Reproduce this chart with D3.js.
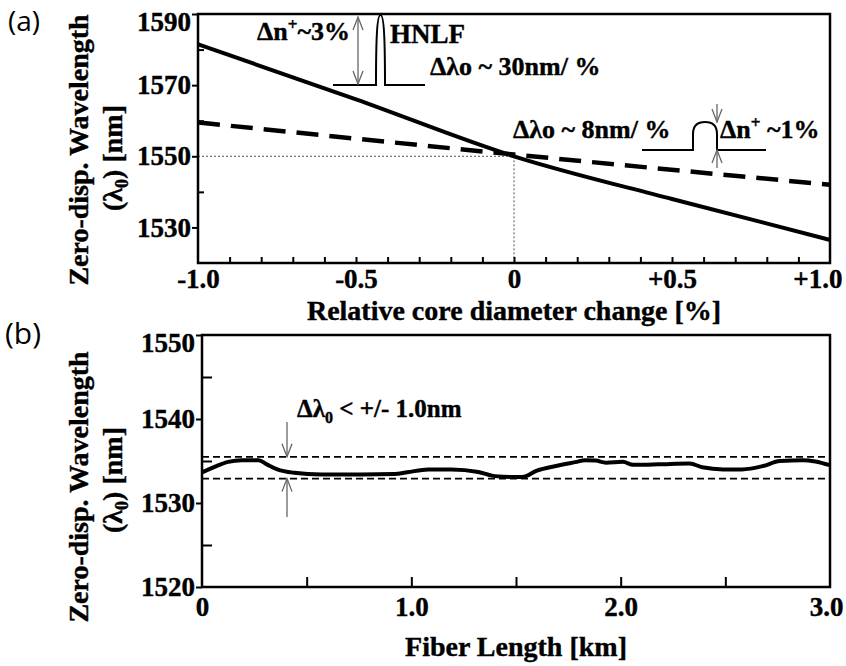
<!DOCTYPE html>
<html>
<head>
<meta charset="utf-8">
<script src="https://cdn.jsdelivr.net/npm/d3@7"></script>
<style>
  body { margin: 0; background: #fff; }
  svg { display: block; }
  text { font-family: "Liberation Serif", "DejaVu Serif", serif; font-weight: bold; fill: #000;
         stroke: #000; stroke-width: 0.4px; }
  .panel-tag { font-family: "Open Sans", "Noto Sans", sans-serif; font-weight: normal; stroke: none; }
</style>
</head>
<body>
<svg id="chart" width="846" height="666"></svg>
<script>
// ---- panel (a): zero-dispersion wavelength vs relative core diameter change
const coreChange = [-1.0, -0.5, 0, 0.5, 1.0];
const hnlfLambda = [1581.5, 1566, 1550, 1538, 1526.5];
const dsfChange = [-1.0, 0, 1.0];
const dsfLambda = [1559.5, 1550.5, 1542];
const aXTicks = [-1.0, -0.5, 0, 0.5, 1.0];
const aXLabels = ["-1.0", "-0.5", "0", "+0.5", "+1.0"];
const aYTicks = [1530, 1550, 1570, 1590];
const aYMinor = [1540, 1560, 1580];

// ---- panel (b): zero-dispersion wavelength along the fiber
const fiberKm = [0, 0.06, 0.125, 0.19, 0.27, 0.31, 0.36, 0.44, 0.57, 0.76, 0.92, 0.98,
  1.08, 1.19, 1.32, 1.40, 1.49, 1.53, 1.60, 1.69, 1.79, 1.83, 1.88, 1.93, 2.01, 2.06,
  2.18, 2.33, 2.39, 2.49, 2.58, 2.68, 2.76, 2.87, 2.93, 3.0];
const fiberLambda = [1533.65, 1534.3, 1534.9, 1535.1, 1535.1, 1534.6, 1534.0, 1533.6,
  1533.4, 1533.4, 1533.45, 1533.65, 1534.0, 1534.0, 1533.7, 1533.2, 1533.1, 1533.1,
  1533.85, 1534.4, 1534.9, 1535.1, 1535.05, 1534.8, 1534.9, 1534.55, 1534.6, 1534.7,
  1534.25, 1534.0, 1534.0, 1534.4, 1535.0, 1535.1, 1534.95, 1534.5];
const bandLimits = [1535.5, 1532.9];
const bXTicks = [0, 1, 2, 3];
const bXLabels = ["0", "1.0", "2.0", "3.0"];
const bXMinor = [0.5, 1.5, 2.5];
const bYTicks = [1520, 1530, 1540, 1550];
const bYMinor = [1525, 1535, 1545];

const svg = d3.select("#chart");
svg.append("rect").attr("width", 846).attr("height", 666).attr("fill", "#fff");

// scales
const xA = d3.scaleLinear().domain([-1, 1]).range([198, 830]);
const yA = d3.scaleLinear().domain([1520, 1590]).range([263, 14]);
const xB = d3.scaleLinear().domain([0, 3]).range([202, 830]);
const yB = d3.scaleLinear().domain([1520, 1550]).range([587, 335]);

function styleAxis(g, size) {
  g.attr("font-size", size).attr("font-family", null);
  g.select(".domain").remove();
  g.selectAll(".tick line").attr("stroke", "#000").attr("stroke-width", 2);
  g.selectAll(".tick text").attr("fill", "#000");
}

// arrow helper: open V head at (x, tipY), pointing up or down
function arrowHead(g, x, tipY, dir) {
  g.append("path")
    .attr("d", `M${x - 5},${tipY - dir * 13} L${x},${tipY} L${x + 5},${tipY - dir * 13}`)
    .attr("fill", "none").attr("stroke", "#666").attr("stroke-width", 1.3);
}

// ================= panel (a) =================
const gA = svg.append("g");

// dotted guide lines to the crossing point
gA.append("line")
  .attr("x1", xA(-1)).attr("x2", xA(0)).attr("y1", yA(1550)).attr("y2", yA(1550))
  .attr("stroke", "#555").attr("stroke-width", 1).attr("stroke-dasharray", "2,2");
gA.append("line")
  .attr("x1", xA(0)).attr("x2", xA(0)).attr("y1", yA(1550)).attr("y2", yA(1520))
  .attr("stroke", "#555").attr("stroke-width", 1).attr("stroke-dasharray", "2,2");

const lineA = d3.line().curve(d3.curveMonotoneX);
gA.append("path")
  .attr("d", lineA(coreChange.map((d, i) => [xA(d), yA(hnlfLambda[i])])))
  .attr("fill", "none").attr("stroke", "#000").attr("stroke-width", 4);
gA.append("path")
  .attr("d", lineA(dsfChange.map((d, i) => [xA(d), yA(dsfLambda[i])])))
  .attr("fill", "none").attr("stroke", "#000").attr("stroke-width", 4.5)
  .attr("stroke-dasharray", "22,11");

// axes
gA.append("g").attr("transform", "translate(0,263)")
  .call(d3.axisBottom(xA).tickValues(d3.range(-9, 10).map(d => d / 10)).tickSize(-6).tickFormat(""))
  .call(g => styleAxis(g, 27));
gA.append("g").attr("transform", "translate(0,263)")
  .call(d3.axisBottom(xA).tickValues(aXTicks).tickSize(0).tickPadding(6).tickFormat((d, i) => aXLabels[i]))
  .call(g => styleAxis(g, 27))
  .call(g => g.selectAll(".tick text").filter(d => d === 1).attr("text-anchor", "end").attr("dx", 12));
gA.append("g").attr("transform", "translate(198,0)")
  .call(d3.axisLeft(yA).tickValues(aYTicks).tickSize(6).tickPadding(1).tickFormat(d3.format("d")))
  .call(g => styleAxis(g, 27))
  .call(g => g.selectAll(".tick text").filter(d => d === 1590).attr("dy", "0.62em"));
gA.append("g").attr("transform", "translate(198,0)")
  .call(d3.axisLeft(yA).tickValues(aYMinor).tickSize(-6).tickFormat(""))
  .call(g => styleAxis(g, 27));

gA.append("rect").attr("x", 198).attr("y", 14).attr("width", 632).attr("height", 249)
  .attr("fill", "none").attr("stroke", "#000").attr("stroke-width", 2.5);

// axis titles
gA.append("text").attr("x", 514).attr("y", 320).attr("text-anchor", "middle")
  .attr("font-size", 28).text("Relative core diameter change [%]");
const tA = gA.append("g").attr("transform", "translate(88,150) rotate(-90)");
tA.append("text").attr("text-anchor", "middle").attr("font-size", 28).text("Zero-disp. Wavelength");
const tA2 = gA.append("text").attr("transform", "translate(122,158) rotate(-90)")
  .attr("text-anchor", "middle").attr("font-size", 28);
tA2.append("tspan").text("(λ");
tA2.append("tspan").attr("font-size", 18).attr("dy", 6).text("0");
tA2.append("tspan").attr("dy", -6).text(")  [nm]");

// HNLF index profile inset
gA.append("path")
  .attr("d", "M333,85 H376 C376,40 377,15 380.5,15 C384,15 385,40 385,85 H425")
  .attr("fill", "none").attr("stroke", "#000").attr("stroke-width", 2);
gA.append("line").attr("x1", 358).attr("x2", 358).attr("y1", 17).attr("y2", 84)
  .attr("stroke", "#666").attr("stroke-width", 1.3);
arrowHead(gA, 358, 17, -1);
arrowHead(gA, 358, 84, 1);
const n3 = gA.append("text").attr("x", 257).attr("y", 40).attr("font-size", 26);
n3.append("tspan").text("Δn");
n3.append("tspan").attr("font-size", 17).attr("dy", -10).text("+");
n3.append("tspan").attr("dy", 10).text("~3%");
gA.append("text").attr("x", 390).attr("y", 43).attr("font-size", 27).text("HNLF");
gA.append("text").attr("x", 430).attr("y", 75).attr("font-size", 26).text("Δλo ~ 30nm/ %");

// DSF index profile inset
gA.append("path")
  .attr("d", "M642,150 H693 V134 Q693,122 705,122 Q717,122 717,134 V150 H766")
  .attr("fill", "none").attr("stroke", "#000").attr("stroke-width", 2);
gA.append("line").attr("x1", 717).attr("x2", 717).attr("y1", 104).attr("y2", 122)
  .attr("stroke", "#666").attr("stroke-width", 1.3);
arrowHead(gA, 717, 122, 1);
gA.append("line").attr("x1", 717).attr("x2", 717).attr("y1", 150).attr("y2", 168)
  .attr("stroke", "#666").attr("stroke-width", 1.3);
arrowHead(gA, 717, 150, -1);
gA.append("text").attr("x", 513).attr("y", 138).attr("font-size", 26).text("Δλo ~ 8nm/ %");
const n1 = gA.append("text").attr("x", 720).attr("y", 138).attr("font-size", 26);
n1.append("tspan").text("Δn");
n1.append("tspan").attr("font-size", 17).attr("dy", -10).text("+");
n1.append("tspan").attr("dy", 10).text(" ~1%");

svg.append("text").attr("class", "panel-tag").attr("x", 8).attr("y", 31)
  .attr("font-size", 28).text("(a)");

// ================= panel (b) =================
const gB = svg.append("g");

bandLimits.forEach(v => {
  gB.append("line")
    .attr("x1", xB(0)).attr("x2", xB(3)).attr("y1", yB(v)).attr("y2", yB(v))
    .attr("stroke", "#000").attr("stroke-width", 1.8).attr("stroke-dasharray", "7,4");
});

const lineB = d3.line().curve(d3.curveMonotoneX);
gB.append("path")
  .attr("d", lineB(fiberKm.map((d, i) => [xB(d), yB(fiberLambda[i])])))
  .attr("fill", "none").attr("stroke", "#000").attr("stroke-width", 4)
  .attr("stroke-linejoin", "round");

gB.append("g").attr("transform", "translate(0,587)")
  .call(d3.axisBottom(xB).tickValues(bXMinor.concat([1, 2])).tickSize(-10).tickFormat(""))
  .call(g => styleAxis(g, 27));
gB.append("g").attr("transform", "translate(0,587)")
  .call(d3.axisBottom(xB).tickValues(bXTicks).tickSize(0).tickPadding(10).tickFormat((d, i) => bXLabels[i]))
  .call(g => styleAxis(g, 27))
  .call(g => g.selectAll(".tick text").filter(d => d === 3).attr("text-anchor", "end").attr("dx", 13));
gB.append("g").attr("transform", "translate(202,0)")
  .call(d3.axisLeft(yB).tickValues(bYTicks).tickSize(6).tickPadding(1).tickFormat(d3.format("d")))
  .call(g => styleAxis(g, 27))
  .call(g => g.selectAll(".tick text").filter(d => d === 1550).attr("dy", "0.62em"));
gB.append("g").attr("transform", "translate(202,0)")
  .call(d3.axisLeft(yB).tickValues(bYMinor).tickSize(-10).tickFormat(""))
  .call(g => styleAxis(g, 27));

gB.append("rect").attr("x", 202).attr("y", 335).attr("width", 628).attr("height", 252)
  .attr("fill", "none").attr("stroke", "#000").attr("stroke-width", 2.5);

gB.append("text").attr("x", 516).attr("y", 656).attr("text-anchor", "middle")
  .attr("font-size", 28).text("Fiber Length [km]");
gB.append("text").attr("transform", "translate(88,487) rotate(-90)")
  .attr("text-anchor", "middle").attr("font-size", 28).text("Zero-disp. Wavelength");
const tB2 = gB.append("text").attr("transform", "translate(122,480) rotate(-90)")
  .attr("text-anchor", "middle").attr("font-size", 28);
tB2.append("tspan").text("(λ");
tB2.append("tspan").attr("font-size", 18).attr("dy", 6).text("0");
tB2.append("tspan").attr("dy", -6).text(")  [nm]");

// tolerance arrows
gB.append("line").attr("x1", 287).attr("x2", 287).attr("y1", 422).attr("y2", yB(bandLimits[0]))
  .attr("stroke", "#666").attr("stroke-width", 1.3);
arrowHead(gB, 287, yB(bandLimits[0]), 1);
gB.append("line").attr("x1", 287).attr("x2", 287).attr("y1", yB(bandLimits[1])).attr("y2", 517)
  .attr("stroke", "#666").attr("stroke-width", 1.3);
arrowHead(gB, 287, yB(bandLimits[1]), -1);
const tol = gB.append("text").attr("x", 297).attr("y", 417).attr("font-size", 25);
tol.append("tspan").text("Δλ");
tol.append("tspan").attr("font-size", 16).attr("dy", 6).text("0");
tol.append("tspan").attr("dy", -6).text(" < +/- 1.0nm");

svg.append("text").attr("class", "panel-tag").attr("x", 5).attr("y", 344)
  .attr("font-size", 30).text("(b)");
</script>
</body>
</html>
